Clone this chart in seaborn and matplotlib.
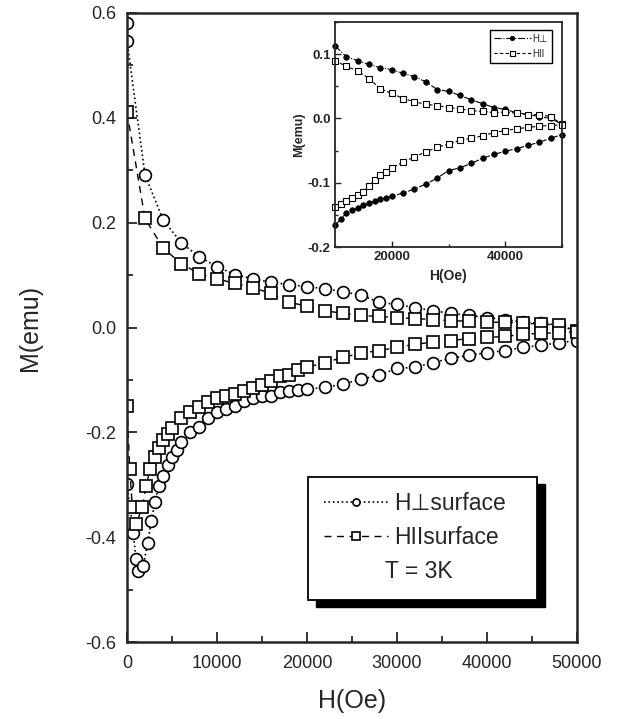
import matplotlib
matplotlib.use("Agg")
import matplotlib.pyplot as plt
import seaborn as sns
from matplotlib.patches import Rectangle
from matplotlib.ticker import MultipleLocator

# ==========================================
# Data (H in Oe, M in emu)
# ==========================================
# main panel, H perpendicular (circles), field going up / down branch
perp_up_H = [0, 0] + list(range(2000, 50001, 2000))
perp_up_M = [0.581, 0.547, 0.291, 0.206, 0.162, 0.135, 0.116, 0.101, 0.093, 0.086,
             0.082, 0.078, 0.074, 0.068, 0.062, 0.048, 0.044, 0.038, 0.032, 0.027,
             0.023, 0.019, 0.015, 0.010, 0.008, 0.005, -0.008]

perp_dn_H = [0, 700, 1000, 1200, 1800, 2300, 2700, 3100, 3500, 4000, 4500, 5000, 5500,
             6000, 7000, 8000, 9000, 10000, 11000, 12000, 13000, 14000, 15000, 16000,
             17000, 18000, 19000, 20000, 22000, 24000, 26000, 28000, 30000, 32000,
             34000, 36000, 38000, 40000, 42000, 44000, 46000, 48000, 50000]
perp_dn_M = [-0.299, -0.392, -0.442, -0.465, -0.455, -0.411, -0.370, -0.333, -0.303,
             -0.284, -0.263, -0.248, -0.234, -0.219, -0.200, -0.189, -0.173, -0.162,
             -0.156, -0.149, -0.141, -0.135, -0.131, -0.130, -0.124, -0.122, -0.120,
             -0.118, -0.114, -0.108, -0.099, -0.091, -0.078, -0.076, -0.067, -0.059,
             -0.053, -0.048, -0.044, -0.038, -0.034, -0.029, -0.025]

# main panel, H parallel (squares)
par_up_H = [0] + list(range(2000, 50001, 2000))
par_up_M = [0.411, 0.208, 0.152, 0.122, 0.103, 0.093, 0.084, 0.076, 0.065, 0.048,
            0.041, 0.032, 0.027, 0.023, 0.021, 0.019, 0.017, 0.015, 0.013, 0.012,
            0.010, 0.010, 0.008, 0.007, 0.004, -0.006]

par_dn_H = [0, 300, 600, 1000, 1700, 2100, 2600, 3100, 3500, 4000, 4500, 5000, 6000,
            7000, 8000, 9000, 10000, 11000, 12000, 13000, 14000, 15000, 16000, 17000,
            18000, 19000, 20000, 22000, 24000, 26000, 28000, 30000, 32000, 34000,
            36000, 38000, 40000, 42000, 44000, 46000, 48000, 50000]
par_dn_M = [-0.150, -0.270, -0.343, -0.375, -0.343, -0.303, -0.269, -0.248, -0.229,
            -0.215, -0.204, -0.192, -0.173, -0.162, -0.152, -0.143, -0.135, -0.131,
            -0.126, -0.122, -0.116, -0.110, -0.103, -0.093, -0.090, -0.082, -0.076,
            -0.067, -0.057, -0.049, -0.044, -0.038, -0.032, -0.028, -0.025, -0.021,
            -0.019, -0.017, -0.013, -0.011, -0.010, -0.008]

# inset (zoom of 10000-50000 Oe)
ins_up_H = list(range(10000, 50001, 2000))
ins_perp_up_M = [0.113, 0.096, 0.090, 0.084, 0.079, 0.076, 0.070, 0.065, 0.057, 0.045,
                 0.042, 0.036, 0.029, 0.023, 0.017, 0.014, 0.009, 0.006, 0.003, 0.000,
                 -0.009]
ins_par_up_M = [0.090, 0.081, 0.074, 0.062, 0.046, 0.039, 0.031, 0.026, 0.022, 0.020,
                0.017, 0.015, 0.012, 0.011, 0.009, 0.010, 0.008, 0.006, 0.006, 0.003,
                -0.009]

ins_dn_H = list(range(10000, 20001, 1000)) + list(range(22000, 50001, 2000))
ins_perp_dn_M = [-0.166, -0.157, -0.147, -0.143, -0.140, -0.135, -0.132, -0.129, -0.126,
                 -0.124, -0.121, -0.116, -0.110, -0.102, -0.093, -0.081, -0.077, -0.070,
                 -0.062, -0.056, -0.051, -0.047, -0.042, -0.037, -0.031, -0.025]
ins_par_dn_M = [-0.138, -0.133, -0.129, -0.124, -0.119, -0.114, -0.105, -0.095, -0.088,
                -0.083, -0.077, -0.068, -0.060, -0.052, -0.045, -0.040, -0.034, -0.031,
                -0.027, -0.022, -0.019, -0.016, -0.014, -0.012, -0.011, -0.010]

# ==========================================
# Style
# ==========================================
sns.set_style("ticks")
plt.rcParams["font.family"] = ["Liberation Sans", "DejaVu Sans"]

fig = plt.figure(figsize=(6.25, 7.19), dpi=100)
ax = fig.add_axes([127 / 625, 1 - 642 / 719, 450 / 625, 629 / 719])

circ_kw = dict(marker="o", markersize=8.5, markerfacecolor="white",
               markeredgecolor="black", markeredgewidth=1.2, color="black",
               linestyle=":", linewidth=1.2, estimator=None, sort=False)
sq_kw = dict(marker="s", markersize=8.5, markerfacecolor="white",
             markeredgecolor="black", markeredgewidth=1.2, color="black",
             linestyle=(0, (5, 4)), linewidth=1.0, estimator=None, sort=False)

sns.lineplot(x=perp_up_H, y=perp_up_M, ax=ax, label="H\u22a5surface", **circ_kw)
sns.lineplot(x=perp_dn_H, y=perp_dn_M, ax=ax, **circ_kw)
sns.lineplot(x=par_up_H, y=par_up_M, ax=ax, label="HIIsurface", **sq_kw)
sns.lineplot(x=par_dn_H, y=par_dn_M, ax=ax, **sq_kw)

ax.set_xlim(0, 50000)
ax.set_ylim(-0.6, 0.6)
ax.xaxis.set_major_locator(MultipleLocator(10000))
ax.xaxis.set_minor_locator(MultipleLocator(5000))
ax.yaxis.set_major_locator(MultipleLocator(0.2))
ax.yaxis.set_minor_locator(MultipleLocator(0.1))
ax.yaxis.set_major_formatter(matplotlib.ticker.FormatStrFormatter("%.1f"))
ax.tick_params(which="both", direction="in", top=False, right=False, width=1.3)
ax.tick_params(which="major", length=7, labelsize=13)
ax.tick_params(which="minor", length=4)
ax.tick_params(axis="y", pad=8)
ax.tick_params(axis="x", pad=9)
for s in ax.spines.values():
    s.set_linewidth(1.8)
    s.set_visible(True)

ax.set_xlabel("H(Oe)", fontsize=18)
ax.set_ylabel("M(emu)", fontsize=18)
ax.xaxis.set_label_coords(0.5, -0.075)
ax.yaxis.set_label_coords(-0.19, 0.5)

# legend box with solid drop shadow
x0, x1 = (308 - 127) / 450, (537 - 127) / 450
y0, y1 = (642 - 600) / 629, (642 - 477) / 629
dx, dy = 8 / 450, 7 / 629
ax.add_patch(Rectangle((x0 + dx, y0 - dy), x1 - x0, y1 - y0, transform=ax.transAxes,
                       facecolor="black", edgecolor="black", zorder=5))
ax.add_patch(Rectangle((x0, y0), x1 - x0, y1 - y0, transform=ax.transAxes,
                       facecolor="white", edgecolor="black", linewidth=1.3, zorder=6))
leg = ax.legend(loc="upper left", bbox_to_anchor=((324 - 127) / 450, (642 - 492) / 629),
                frameon=False, fontsize=16.5, handlelength=2.8, handletextpad=0.25,
                labelspacing=0.5, borderaxespad=0, borderpad=0, markerscale=0.6)
leg.set_zorder(7)
ax.text((419 - 127) / 450, (642 - 572) / 629, "T = 3K", transform=ax.transAxes,
        ha="center", va="center", fontsize=16.5, zorder=8)

# ==========================================
# Inset
# ==========================================
ins = fig.add_axes([335 / 625, 1 - 247 / 719, 227 / 625, 225 / 719])
ic_kw = dict(marker="o", markersize=4, markerfacecolor="black", markeredgecolor="black",
             markeredgewidth=0.5, color="black", linestyle="-.", linewidth=0.8,
             estimator=None, sort=False, clip_on=False)
is_kw = dict(marker="s", markersize=4.5, markerfacecolor="white", markeredgecolor="black",
             markeredgewidth=0.8, color="black", linestyle=(0, (3, 2)), linewidth=0.8,
             estimator=None, sort=False, clip_on=False)
sns.lineplot(x=ins_up_H, y=ins_perp_up_M, ax=ins, label="H\u22a5", **ic_kw)
sns.lineplot(x=ins_dn_H, y=ins_perp_dn_M, ax=ins, **ic_kw)
sns.lineplot(x=ins_up_H, y=ins_par_up_M, ax=ins, label="HII", **is_kw)
sns.lineplot(x=ins_dn_H, y=ins_par_dn_M, ax=ins, **is_kw)

ins.set_xlim(10000, 50000)
ins.set_ylim(-0.2, 0.15)
ins.xaxis.set_major_locator(MultipleLocator(20000))
ins.xaxis.set_minor_locator(MultipleLocator(10000))
ins.yaxis.set_major_locator(MultipleLocator(0.1))
ins.yaxis.set_minor_locator(MultipleLocator(0.05))
ins.yaxis.set_major_formatter(matplotlib.ticker.FormatStrFormatter("%.1f"))
ins.tick_params(which="both", direction="in", top=False, right=False, width=1.0)
ins.tick_params(which="major", length=4, labelsize=9.5, pad=3)
ins.tick_params(which="minor", length=2.5)
for lab in ins.get_xticklabels() + ins.get_yticklabels():
    lab.set_fontweight("bold")
for s in ins.spines.values():
    s.set_linewidth(1.3)
    s.set_visible(True)
ins.set_xlabel("H(Oe)", fontsize=10, fontweight="bold", labelpad=4)
ins.set_ylabel("M(emu)", fontsize=9, fontweight="bold", labelpad=2)

ileg = ins.legend(loc="upper right", bbox_to_anchor=((552 - 335) / 227, (247 - 30) / 225),
                  fontsize=7, handlelength=3.8, handletextpad=0.2, labelspacing=0.5,
                  borderaxespad=0, borderpad=0.4, fancybox=False, framealpha=1,
                  edgecolor="black", markerscale=0.8)
ileg.get_frame().set_linewidth(1.0)

fig.savefig("out.png", dpi=100)
